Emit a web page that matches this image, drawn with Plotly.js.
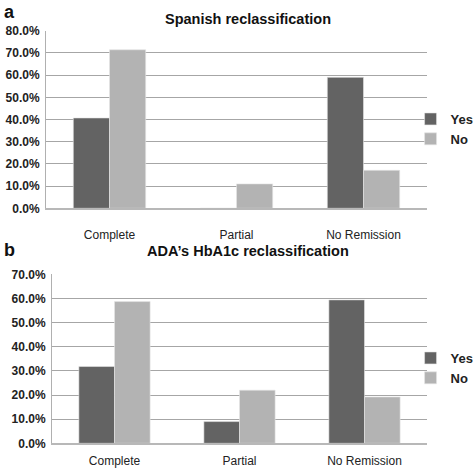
<!DOCTYPE html>
<html><head><meta charset="utf-8">
<script src="https://cdn.plot.ly/plotly-3.0.1.min.js"></script>
<style>html,body{margin:0;padding:0;background:#fff}#c{width:473px;height:468px}</style>
</head><body><div id="c"></div>
<script>
const categories = ["Complete", "Partial", "No Remission"];
const seriesNames = ["Yes", "No"];
const spanishYes = [40.7, 0, 59.0];
const spanishNo = [71.4, 11.0, 17.1];
const adaYes = [31.8, 9.0, 59.4];
const adaNo = [58.7, 22.0, 19.2];
const titleA = "Spanish reclassification";
const titleB = "ADA’s HbA1c reclassification";

const dark = "#636363", light = "#b3b3b3";
const font = "Liberation Sans, Arial, sans-serif";
function bar(y, name, color, xa, ya, lg) {
  return {type: "bar", x: categories, y: y, name: name, xaxis: xa, yaxis: ya, legend: lg,
    marker: {color: color, line: {color: "#e6e6e6", width: 0.6}}, hoverinfo: "skip"};
}
const data = [
  bar(spanishYes, seriesNames[0], dark, "x", "y", "legend"),
  bar(spanishNo, seriesNames[1], light, "x", "y", "legend"),
  bar(adaYes, seriesNames[0], dark, "x2", "y2", "legend2"),
  bar(adaNo, seriesNames[1], light, "x2", "y2", "legend2")
];
const yCommon = {dtick: 10, tickformat: ".1f", ticksuffix: "%", showgrid: true, gridcolor: "#a6a6a6", gridwidth: 1,
  showline: true, linecolor: "#b0b0b0", linewidth: 1, zeroline: false, ticks: "", ticklen: 0, automargin: false,
  ticklabelstandoff: 3,
  tickfont: {family: font, size: 12, color: "#222", weight: "bold"}};
const xCommon = {type: "category", range: [-0.5, 2.5], showline: true, linecolor: "#b8b8b8", linewidth: 2,
  ticks: "", showgrid: false, automargin: false, tickfont: {family: font, size: 12, color: "#222"}};
const legCommon = {xref: "container", yref: "container", x: 0.868, xanchor: "left", yanchor: "middle",
  font: {family: font, size: 13, color: "#222", weight: "bold"},
  bgcolor: "rgba(0,0,0,0)", itemwidth: 30, tracegroupgap: 4};
const layout = {
  width: 473, height: 468, margin: {l: 0, r: 0, t: 0, b: 0, autoexpand: false},
  paper_bgcolor: "#fff", plot_bgcolor: "#fff",
  barmode: "group", bargap: 0.43, bargroupgap: 0,
  showlegend: true,
  xaxis: Object.assign({}, xCommon, {domain: [46/473, 427/473], anchor: "y", ticklabelstandoff: 14}),
  yaxis: Object.assign({}, yCommon, {domain: [1 - 208.3/468, 1 - 30.7/468], range: [0, 80], anchor: "x"}),
  xaxis2: Object.assign({}, xCommon, {domain: [52/473, 427/473], anchor: "y2", ticklabelstandoff: 5}),
  yaxis2: Object.assign({}, yCommon, {domain: [1 - 443.3/468, 1 - 274.3/468], range: [0, 70], anchor: "x2"}),
  legend: Object.assign({}, legCommon, {y: 1 - 129/468}),
  legend2: Object.assign({}, legCommon, {y: 1 - 368/468}),
  annotations: [
    {text: titleA, x: 248/473, y: 1 - 19/468, xref: "paper", yref: "paper", showarrow: false, xanchor: "center", yanchor: "middle",
      font: {family: font, size: 14.5, color: "#111", weight: "bold"}},
    {text: titleB, x: 248/473, y: 1 - 251/468, xref: "paper", yref: "paper", showarrow: false, xanchor: "center", yanchor: "middle",
      font: {family: font, size: 14.5, color: "#111", weight: "bold"}},
    {text: "a", x: 2/473, y: 1, xref: "paper", yref: "paper", showarrow: false, xanchor: "left", yanchor: "top",
      font: {family: font, size: 18, color: "#111", weight: "bold"}},
    {text: "b", x: 2/473, y: 1 - 238/468, xref: "paper", yref: "paper", showarrow: false, xanchor: "left", yanchor: "top",
      font: {family: font, size: 18, color: "#111", weight: "bold"}}
  ]
};
Plotly.newPlot("c", data, layout, {displayModeBar: false, staticPlot: true});
</script></body></html>
